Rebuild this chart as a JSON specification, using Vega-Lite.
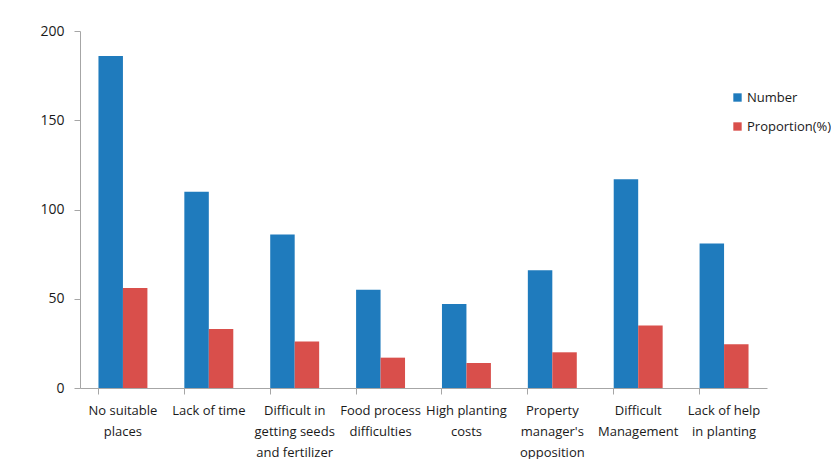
{
  "$schema": "https://vega.github.io/schema/vega-lite/v6.json",
  "autosize": {"type": "none"},
  "width": 687,
  "height": 357,
  "padding": {"left": 80, "top": 31, "right": 64, "bottom": 71},
  "background": "white",
  "data": {
    "values": [
      {"reason": "No suitable\nplaces", "series": "Number", "value": 186},
      {"reason": "No suitable\nplaces", "series": "Proportion(%)", "value": 56},
      {"reason": "Lack of time", "series": "Number", "value": 110},
      {"reason": "Lack of time", "series": "Proportion(%)", "value": 33},
      {"reason": "Difficult in\ngetting seeds\nand fertilizer", "series": "Number", "value": 86},
      {"reason": "Difficult in\ngetting seeds\nand fertilizer", "series": "Proportion(%)", "value": 26},
      {"reason": "Food process\ndifficulties", "series": "Number", "value": 55},
      {"reason": "Food process\ndifficulties", "series": "Proportion(%)", "value": 17},
      {"reason": "High planting\ncosts", "series": "Number", "value": 47},
      {"reason": "High planting\ncosts", "series": "Proportion(%)", "value": 14},
      {"reason": "Property\nmanager's\nopposition", "series": "Number", "value": 66},
      {"reason": "Property\nmanager's\nopposition", "series": "Proportion(%)", "value": 20},
      {"reason": "Difficult\nManagement", "series": "Number", "value": 117},
      {"reason": "Difficult\nManagement", "series": "Proportion(%)", "value": 35},
      {"reason": "Lack of help\nin planting", "series": "Number", "value": 81},
      {"reason": "Lack of help\nin planting", "series": "Proportion(%)", "value": 24.5}
    ]
  },
  "mark": {"type": "bar"},
  "encoding": {
    "x": {
      "field": "reason",
      "type": "nominal",
      "sort": null,
      "title": null,
      "scale": {"paddingInner": 0.43, "paddingOuter": 0.215},
      "axis": {
        "labelAngle": 0,
        "labelExpr": "split(datum.value, '\\n')",
        "labelFont": "Open Sans",
        "labelFontSize": 13,
        "labelColor": "#1a1a1a",
        "labelLineHeight": 21,
        "labelPadding": 10,
        "labelLimit": 200,
        "bandPosition": 0,
        "tickSize": 6,
        "tickColor": "#a6a6a6",
        "domainColor": "#a6a6a6"
      }
    },
    "xOffset": {"field": "series", "type": "nominal"},
    "y": {
      "field": "value",
      "type": "quantitative",
      "title": null,
      "scale": {"domain": [0, 200]},
      "axis": {
        "values": [0, 50, 100, 150, 200],
        "grid": false,
        "labelFont": "Open Sans",
        "labelFontSize": 14,
        "labelColor": "#1a1a1a",
        "labelPadding": 10,
        "tickSize": 6,
        "tickColor": "#a6a6a6",
        "domainColor": "#a6a6a6"
      }
    },
    "color": {
      "field": "series",
      "type": "nominal",
      "title": null,
      "scale": {"domain": ["Number", "Proportion(%)"], "range": ["#1f7bbd", "#d94f4b"]},
      "legend": {
        "orient": "none",
        "legendX": 651,
        "legendY": 60,
        "symbolType": "square",
        "symbolSize": 70,
        "symbolStrokeWidth": 0,
        "rowPadding": 15,
        "labelFont": "Open Sans",
        "labelFontSize": 13,
        "labelColor": "#1a1a1a",
        "labelOffset": 3
      }
    }
  },
  "config": {"view": {"stroke": null}}
}
